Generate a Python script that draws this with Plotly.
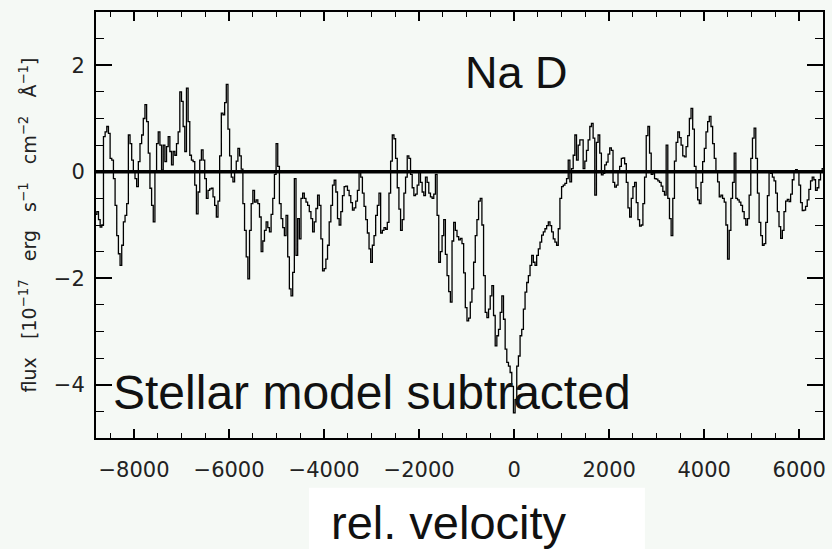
import numpy as np
import plotly.graph_objects as go

# Velocity window of the spectrum (km/s), uniform channels
v_min, v_max = -8800, 6500

# Residual flux after stellar-model subtraction (1e-17 erg s^-1 cm^-2 A^-1)
flux = [
    # -8800 .. -6250
    -0.80, -0.75, -0.90, -1.04, -1.0, 0.66, 0.75, 0.85, 0.72, 0.25,
    0.22, -0.13, -0.63, -1.2, -1.54, -1.76, -1.38, -0.94, -0.82, -0.6,
    0.69, 0.53, 0.22, 0.0, -0.13, -0.28, 0.19, 0.53, 0.69, 1.0,
    1.26, 0.94, 0.35, -0.31, -0.63, -0.94, 0.0, 0.53, 0.75, 0.5,
    0.03, 0.5, 0.19, 0.47, 0.66, 0.38, 0.13, 0.38, 0.31, 0.53,
    0.75, 1.5, 1.32, 0.85, 0.38, 1.57, 0.94, 0.31, 0.22, 0.19,
    -0.25, -0.79, -0.38, 0.22, 0.41, 0.22, -0.13, -0.5, -0.35, -0.32,
    -0.31, -0.47, -0.63, -0.85,
    # -6215 .. -3700
    -0.55, 0.3, 1.1, 1.07, 1.3, 1.64, 0.8, 0.3, -0.1, -0.19,
    0.0, 0.2, 0.44, 0.3, 0.05, -0.6, -1.1, -1.6, -2.01, -1.1,
    -0.6, -0.35, -0.57, -0.53, -0.6, -0.85, -1.5, -1.3, -1.1, -0.94,
    -1.05, -1.13, -0.8, -0.5, -0.05, 0.53, 0.1, -0.6, -0.88, -1.05,
    -1.2, -0.82, -1.6, -2.2, -2.33, -1.89, -0.13, -1.57, -0.88, -1.26,
    -0.5, -0.4, -0.5, -0.57, -0.63, -0.75, -0.88, -1.13, -0.94, -0.69,
    -0.44, -0.63, -1.26, -1.86, -1.82, -1.64, -1.38, -0.94, -0.63, -0.25,
    -0.16, -0.38, -0.88,
    # -3665 .. -1150
    -1.0, -0.75, -0.45, -0.28, -0.27, -0.35, -0.45, -0.58, -0.72, -0.68,
    -0.55, -0.35, 0.0, -0.1, -0.4, -0.65, -0.9, -1.15, -1.45, -1.7,
    -1.38, -1.2, -0.82, -0.63, -0.4, -1.15, -1.1, -1.05, -1.08, -0.95,
    -0.4, 0.2, 0.69, 0.62, 0.25, -0.3, -0.7, -1.1, -0.9, -0.4,
    -0.1, 0.3, 0.25, -0.05, -0.3, -0.45, -0.42, -0.25, 0.0, -0.2,
    -0.38, -0.45, -0.1, -0.2, -0.4, -0.47, -0.5, -0.42, -0.05, -0.82,
    -1.7, -1.5, -1.2, -0.9, -1.55, -1.95, -2.25, -2.45, -1.3, -0.95,
    -1.1, -1.22, -1.28,
    # -1115 .. 1400
    -1.25, -1.35, -1.9, -2.55, -2.8, -2.75, -2.45, -2.2, -1.7, -1.2,
    -0.9, -0.55, -0.5, -1.0, -1.95, -2.64, -2.74, -2.58, -2.33, -2.14,
    -2.7, -3.27, -3.08, -2.96, -2.64, -2.33, -2.77, -3.33, -3.58, -3.65,
    -3.77, -4.03, -4.53, -4.28, -3.65, -3.46, -3.08, -2.96, -2.58, -2.26,
    -2.08, -1.95, -1.76, -1.57, -1.7, -1.76, -1.57, -1.45, -1.32, -1.19,
    -1.13, -1.07, -1.01, -0.94, -1.01, -1.13, -1.26, -1.32, -1.38, -1.07,
    -0.5, -0.28, -0.25, -0.22, -0.13, 0.22, -0.19, 0.06, 0.31, 0.69,
    0.22, 0.5, 0.6,
    # 1435 .. 3950
    0.6, 0.06, 0.2, 0.4, 0.6, 0.85, 0.91, 0.63, -0.44, 0.55,
    0.69, 0.35, -0.06, -0.03, 0.13, 0.18, 0.33, 0.45, 0.4, -0.2,
    -0.29, -0.25, 0.0, 0.1, 0.25, 0.26, 0.15, -0.2, -0.68, -0.85,
    -0.5, -0.28, -0.2, -0.58, -0.9, -1.02, -1.0, -0.6, -0.1, 0.68,
    0.85, 0.35, -0.05, -0.02, -0.13, -0.14, -0.17, -0.2, -0.27, -0.37,
    -0.44, 0.5, -0.5, -0.88, -1.2, -0.5, 0.2, 0.55, 0.75, 0.64,
    0.5, 0.3, 0.28, 0.47, 0.68, 1.0, 1.19, 0.8, 0.1, -0.3,
    -0.53, -0.6, -0.2,
    # 3985 .. 6500
    0.19, 0.44, 0.75, 0.94, 1.04, 0.85, 0.53, 0.25, 0.0, -0.19,
    -0.47, -0.44, -0.5, -0.57, -1.0, -1.64, -1.1, -0.5, -0.2, 0.35,
    -0.5, -0.53, -0.57, -0.63, -0.75, -0.88, -1.0, -0.88, -0.44, 0.25,
    0.63, 0.82, 0.25, -0.4, -0.95, -1.2, -1.38, -1.35, -0.95, -0.45,
    0.0, -0.03, -0.1, -0.17, -0.4, -0.75, -1.03, -1.25, -1.1, -0.75,
    -0.55, -0.52, -0.56, -0.42, -0.15, 0.0, 0.04, 0.02, -0.25, -0.58,
    -0.73, -0.72, -0.65, -0.53, -0.33, -0.17, -0.1, -0.15, -0.35, -0.3,
    -0.15, 0.0, 0.06,
]

x_ticks = [-8000, -6000, -4000, -2000, 0, 2000, 4000, 6000]
y_ticks = [-4, -2, 0, 2]
y_range = [-5, 3]

velocity = np.linspace(v_min, v_max, len(flux))

bg = "#f5f9f5"
ink = "#111111"
tick_font = dict(family="DejaVu Sans", size=21, color="#222222")

fig = go.Figure()

# continuum level
fig.add_trace(go.Scatter(
    x=[v_min, v_max], y=[0, 0], mode="lines",
    line=dict(color="black", width=3.4), hoverinfo="skip", showlegend=False,
))

# residual spectrum drawn as a histogram
fig.add_trace(go.Scatter(
    x=velocity, y=flux, mode="lines",
    line=dict(color="black", width=1.3, shape="hvh"),
    showlegend=False,
))

axis_common = dict(
    showgrid=False, zeroline=False, showline=True, linecolor="black",
    linewidth=2, ticks="inside", mirror="ticks", tickcolor="black",
    tickwidth=1.5, tickfont=tick_font,
)

fig.update_xaxes(
    range=[v_min, v_max], tickvals=x_ticks, ticklen=9,
    minor=dict(dtick=500, tick0=0, ticklen=5, ticks="inside",
               tickcolor="black", tickwidth=1.2),
    ticklabelstandoff=12,
    **axis_common,
)
fig.update_yaxes(
    range=y_range, tickvals=y_ticks, ticklen=16,
    minor=dict(dtick=0.5, tick0=0, ticklen=8, ticks="inside",
               tickcolor="black", tickwidth=1.2),
    ticklabelstandoff=5,
    **axis_common,
)

gap = "\u00a0" * 3
y_title = (f"flux{gap}[10<sup>\u221217</sup>{gap}erg{gap}s<sup>\u22121</sup>"
           f"{gap}cm<sup>\u22122</sup>{gap}Å<sup>\u22121</sup>]")

fig.add_annotation(
    text=y_title, xref="paper", yref="paper", x=-0.093, y=0.50,
    textangle=-90, showarrow=False, xanchor="center", yanchor="middle",
    font=dict(family="DejaVu Sans", size=19, color="#222222"),
)

fig.add_annotation(
    text="Na D", xref="x", yref="y", x=-1080, y=1.87,
    xanchor="left", yanchor="middle", showarrow=False,
    font=dict(family="Liberation Sans", size=45, color=ink),
)
fig.add_annotation(
    text="Stellar model subtracted", xref="x", yref="y", x=-8480, y=-4.15,
    xanchor="left", yanchor="middle", showarrow=False,
    font=dict(family="Liberation Sans", size=48, color=ink),
)

# white label box beneath the axis
fig.add_shape(
    type="rect", xref="paper", yref="paper", x0=0.293, x1=0.755,
    y0=-0.117, y1=-0.27, fillcolor="white", line=dict(width=0), layer="above",
)
fig.add_annotation(
    text="rel. velocity", xref="paper", yref="paper", x=0.321, y=-0.199,
    xanchor="left", yanchor="middle", showarrow=False,
    font=dict(family="Liberation Sans", size=47, color=ink),
)

fig.update_layout(
    width=832, height=549,
    margin=dict(l=96, r=6, t=12, b=111),
    paper_bgcolor=bg, plot_bgcolor=bg,
)

fig.write_html("out.html")
